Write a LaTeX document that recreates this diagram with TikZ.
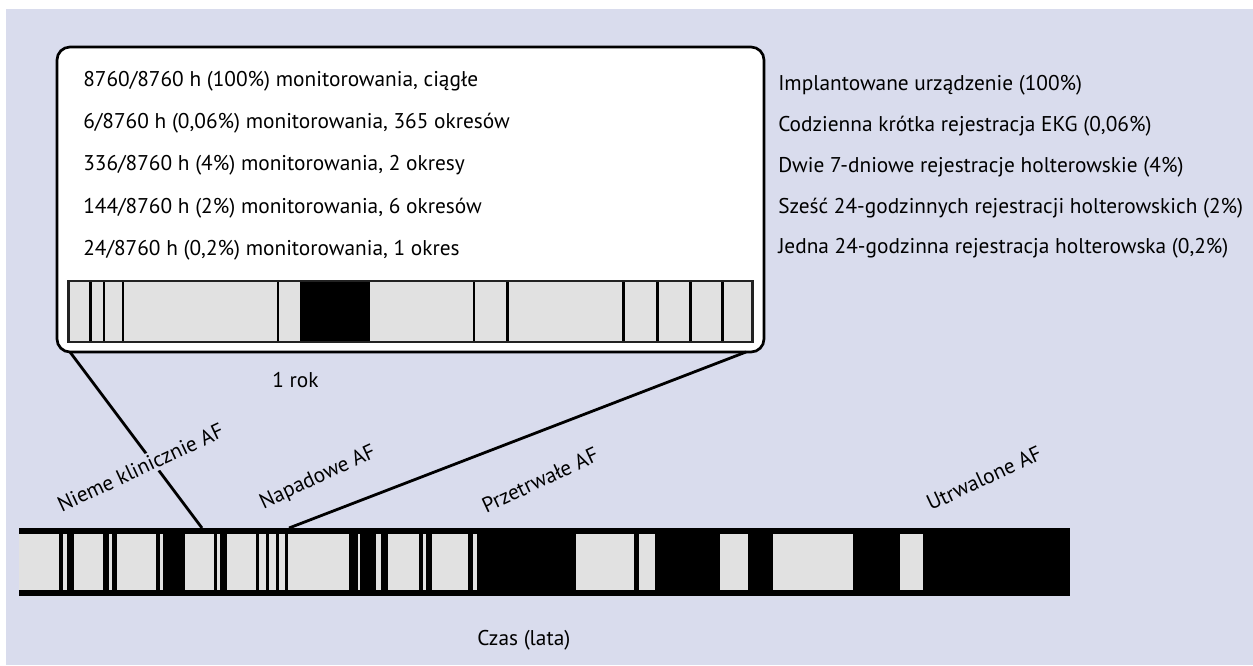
\documentclass[tikz,border=0pt]{standalone}
\usepackage{fontspec}
\setmainfont{PT Sans}
\usetikzlibrary{calc}
\definecolor{bgc}{RGB}{217,220,237}
\definecolor{lgray}{RGB}{225,225,225}
\definecolor{dgray}{RGB}{34,34,34}
\begin{document}
\begin{tikzpicture}[x=0.75pt,y=-0.75pt,
  font=\fontsize{16}{19}\selectfont,
  txt/.style={anchor=base west, inner sep=0pt},
  lbl/.style={rotate=25, inner sep=2pt, fill=bgc},
  conn/.style={line width=2.1pt, black},
  tick/.style={line width=1.7pt, black}]
\useasboundingbox (0,0) rectangle (1253,665);
\fill[bgc] (6,9) rectangle (1253,665);

% magnified box
\node[draw, line width=2pt, fill=white, rounded corners=9.75pt,
  minimum width=530.25pt, minimum height=228.75pt, inner sep=0pt, outer sep=0pt]
  (box) at (410.5,199.5) {};

% one-year bar
\node[fill=lgray, minimum width=513.1pt, minimum height=45.75pt, inner sep=0pt, outer sep=0pt]
  (ybar) at (410.45,311.5) {};
\fill[black] (300,281) rectangle (370,342);
\foreach \x in {90.4,103.7,123,278.2,474.2,623.5,657.4,690.5,722.6}
  \draw[tick] (\x,281) -- (\x,342);
\draw[line width=2.6pt] (507.3,281) -- (507.3,342);
\draw[draw=dgray, line width=1.7pt] (ybar.north west) rectangle (ybar.south east);

% texts in box
\node[txt] (l1) at (83,86) {8760/8760 h (100\%) monitorowania, ciągłe};
\node[txt] (l2) at (83,128) {6/8760 h (0,06\%) monitorowania, 365 okresów};
\node[txt] (l3) at (83,170.5) {336/8760 h (4\%) monitorowania, 2 okresy};
\node[txt] (l4) at (83,213) {144/8760 h (2\%) monitorowania, 6 okresów};
\node[txt] (l5) at (83,255) {24/8760 h (0,2\%) monitorowania, 1 okres};

% right column
\node[txt] (r1) at (778,90.5) {Implantowane urządzenie (100\%)};
\node[txt] (r2) at (778,131) {Codzienna krótka rejestracja EKG (0,06\%)};
\node[txt] (r3) at (778,172.5) {Dwie 7-dniowe rejestracje holterowskie (4\%)};
\node[txt] (r4) at (778,213) {Sześć 24-godzinnych rejestracji holterowskich (2\%)};
\node[txt] (r5) at (778,253) {Jedna 24-godzinna rejestracja holterowska (0,2\%)};

\node[txt] (rok) at (272,387) {1 rok};

% time bar
\node[fill=black, minimum width=788.25pt, minimum height=51pt, inner sep=0pt, outer sep=0pt]
  (bar) at (544.5,562) {};
\foreach \a/\b in {19/58.9, 62.5/67.1, 73.6/102.5, 108.6/112.1, 117.1/156.1, 160/162.9,
  185/213.6, 216.8/220.4, 227.1/256.1, 259.3/266.1, 269.3/276.1, 279.3/284.6,
  287.9/348.9, 357.9/360, 376.4/380.7, 387.5/418.9, 422.9/426.4, 432.1/467.9,
  473.2/477.1, 576.1/633.9, 638.9/655, 720/747.9, 772.9/852.9, 900/922.9}
  \fill[lgray] (\a,534) rectangle (\b,590);

% connectors
\coordinate (bl) at (202,528);
\coordinate (br) at (289,528);
\draw[conn] ($(box.south west)+(13,0)$) -- (bl);
\draw[conn] ($(box.south east)+(-18,0)$) -- (br);

% phase labels
\node[lbl] (p1) at (140.5,467.5) {Nieme klinicznie AF};
\node[lbl] (p2) at (318,478) {Napadowe AF};
\node[lbl] (p3) at (540,480) {Przetrwałe AF};
\node[lbl] (p4) at (984,478) {Utrwalone AF};

\node[txt] (czas) at (477,645) {Czas (lata)};
\end{tikzpicture}
\end{document}
